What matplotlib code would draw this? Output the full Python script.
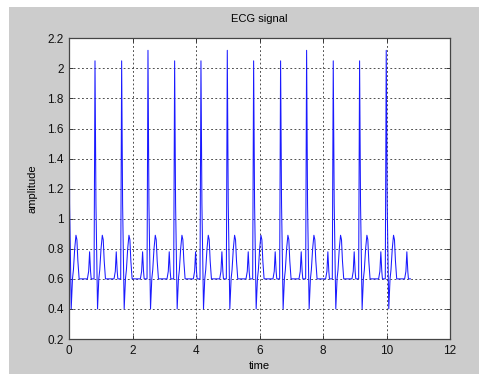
import numpy as np
import matplotlib
matplotlib.use('Agg')
import matplotlib.pyplot as plt
from matplotlib.patches import Rectangle

# R-peak times (s) and peak heights
r_times = [-0.02, 0.81, 1.65, 2.48, 3.32, 4.15, 4.98, 5.81, 6.66, 7.48, 8.32, 9.15, 9.99]
r_peaks = [1.87, 2.05, 2.05, 2.12, 2.05, 2.05, 2.12, 2.05, 2.05, 2.12, 2.05, 2.05, 2.12]

# one beat shape: offsets from the R peak and amplitudes (R level filled per beat)
beat_dt = [-0.24, -0.20, -0.17, -0.14, -0.12, -0.03, 0.0, 0.03, 0.08, 0.12,
           0.15, 0.19, 0.23, 0.26, 0.29, 0.33]
beat_amp = [0.60, 0.65, 0.78, 0.65, 0.60, 0.60, None, 1.10, 0.40, 0.60,
            0.66, 0.80, 0.89, 0.86, 0.72, 0.60]

# final P wave before the record stops
tail_t = [10.57, 10.61, 10.64, 10.67, 10.69, 10.75]
tail_y = [0.60, 0.65, 0.78, 0.65, 0.60, 0.60]

t = []
y = []
for rt, rp in zip(r_times, r_peaks):
    for dt, a in zip(beat_dt, beat_amp):
        tt = rt + dt
        if tt < 0:
            continue
        if not t and tt > 0:
            t.append(0.0)
            y.append(rp)
        t.append(tt)
        y.append(rp if a is None else a)
t += tail_t
y += tail_y

bg = '#cccccc'
fig = plt.figure(figsize=(4.79, 3.74), dpi=100, facecolor=bg)
fig.patches.append(Rectangle((0, 0), 9 / 479, 1, transform=fig.transFigure,
                             facecolor='white', edgecolor='none', zorder=-1))
fig.patches.append(Rectangle((0, 1 - 7 / 374), 1, 7 / 374, transform=fig.transFigure,
                             facecolor='white', edgecolor='none', zorder=-1))

ax = fig.add_axes([69.3 / 479, 1 - 339 / 374, (450 - 69.3) / 479, (339 - 38.3) / 374])
ax.plot(t, y, color='#1a1aff', lw=0.75)

ax.set_xlim(0, 12)
ax.set_ylim(0.2, 2.2)
ax.set_xticks(np.arange(0, 13, 2))
yt = np.round(np.arange(0.2, 2.21, 0.2), 1)
ax.set_yticks(yt)
ax.set_yticklabels(['%g' % v for v in yt])

font = ['Liberation Sans', 'DejaVu Sans']
for lab in ax.get_xticklabels() + ax.get_yticklabels():
    lab.set_family(font)
ax.tick_params(direction='in', length=3, width=0.7, labelsize=8.5,
               top=True, right=True, colors='#333333', labelcolor='#111111')
ax.tick_params(axis='x', pad=4)
ax.tick_params(axis='y', pad=4)

ax.grid(True, color='#333333', linestyle=(0, (2.2, 2.8)), linewidth=0.6)
for s in ax.spines.values():
    s.set_color('#444444')
    s.set_linewidth(0.9)

ax.set_title('ECG signal', fontsize=8, family=font, pad=12)
ax.set_xlabel('time', fontsize=8, family=font, labelpad=3)
ax.set_ylabel('amplitude', fontsize=8, family=font, labelpad=7)

fig.savefig('out.png', dpi=100, facecolor=bg)
